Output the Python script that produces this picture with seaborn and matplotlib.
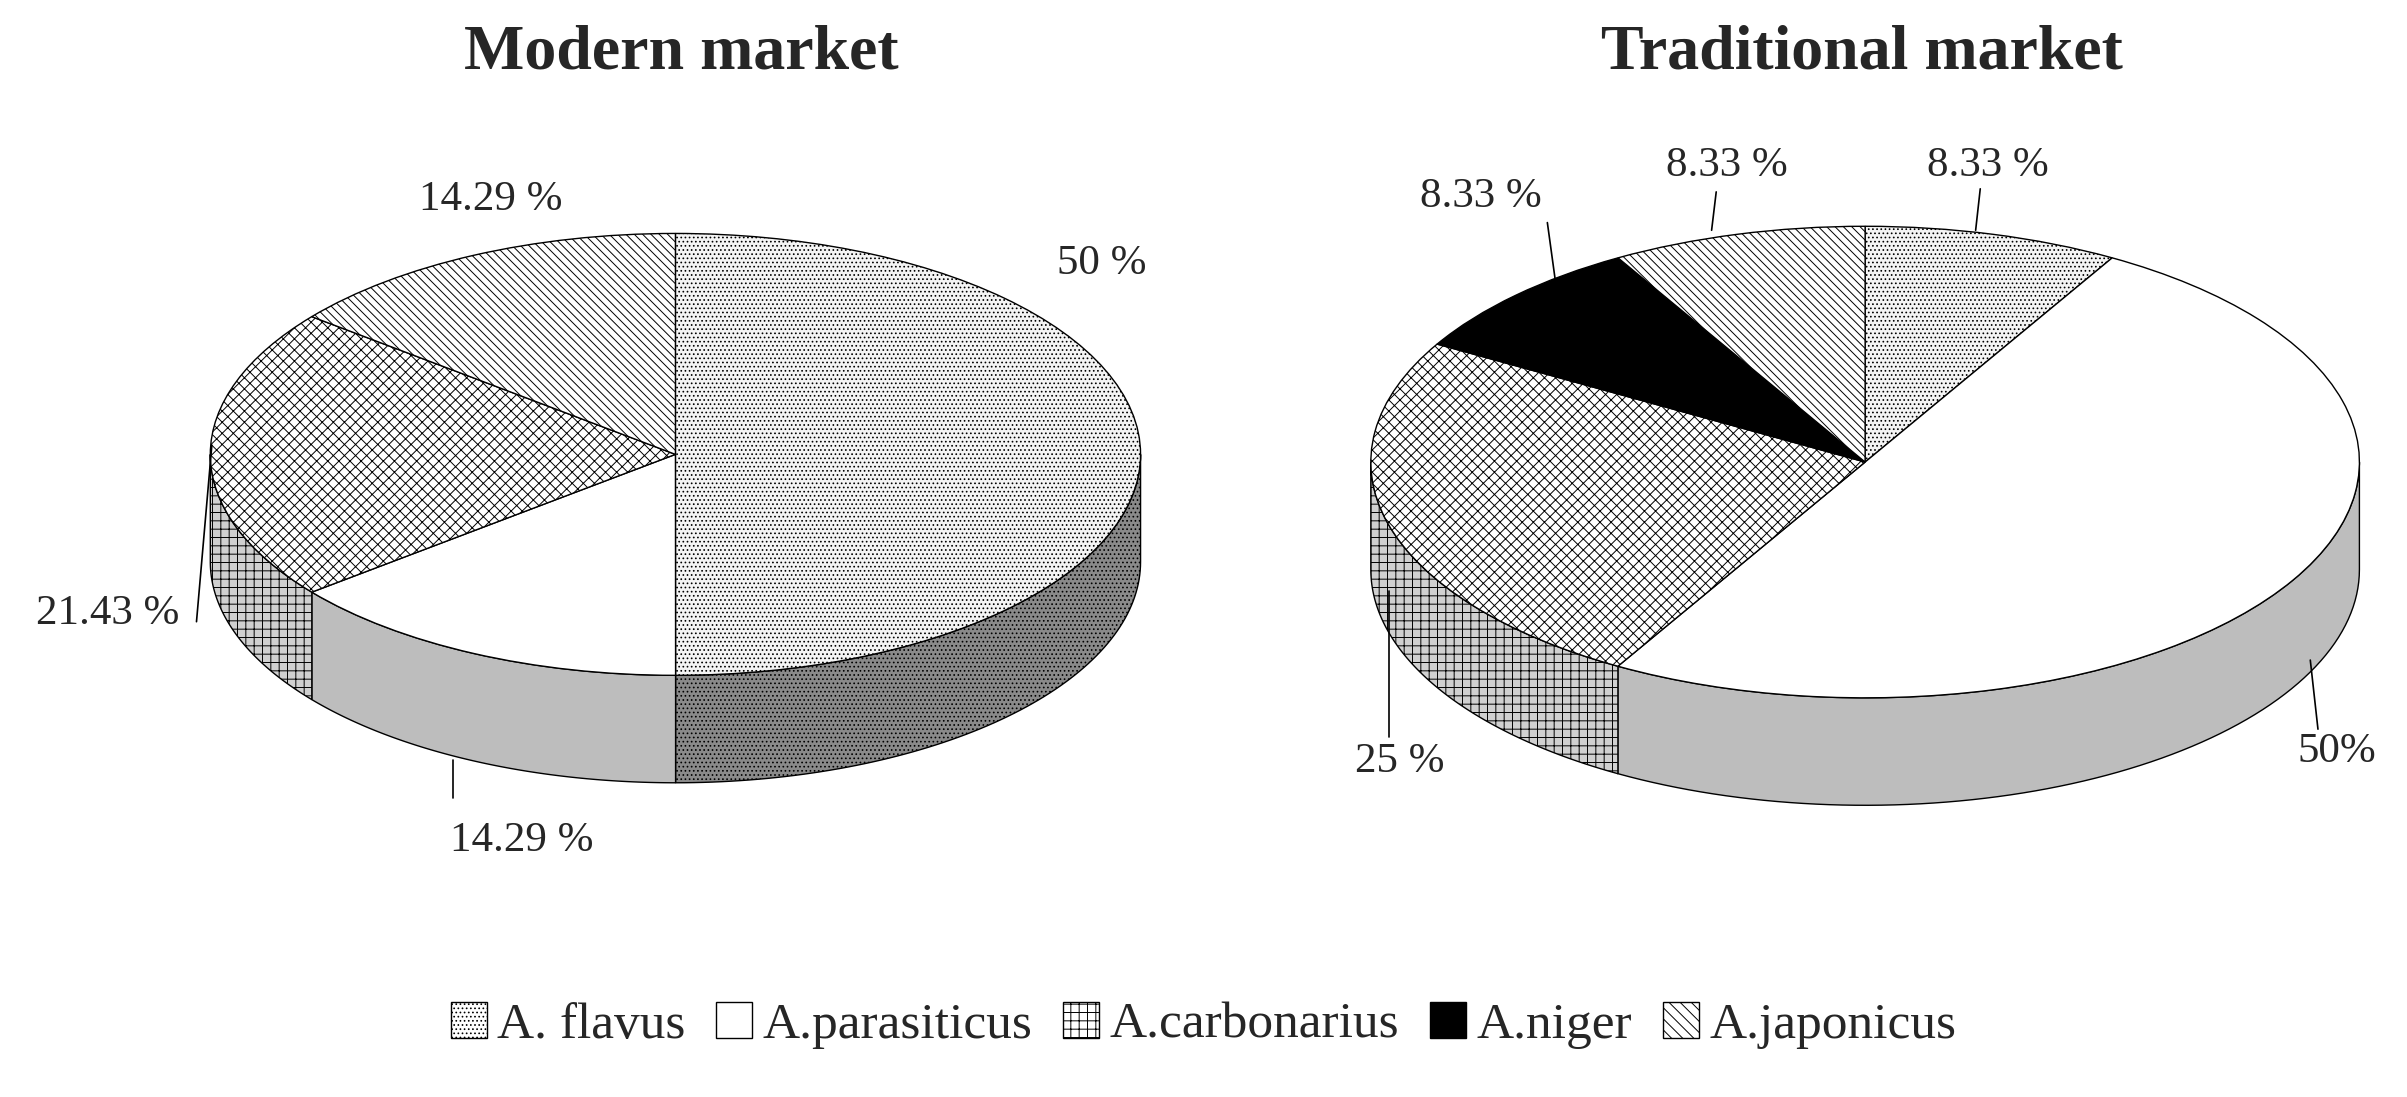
import numpy as np
import matplotlib
matplotlib.use("Agg")
import matplotlib.pyplot as plt
from matplotlib.patches import Polygon, Patch
from matplotlib.transforms import Affine2D
import seaborn as sns

species = ["A. flavus", "A.parasiticus", "A.carbonarius", "A.niger", "A.japonicus"]
modern_species = ["A. flavus", "A.parasiticus", "A.carbonarius", "A.japonicus"]
modern_values = [50, 14.29, 21.43, 14.29]
trad_species = ["A. flavus", "A.parasiticus", "A.carbonarius", "A.niger", "A.japonicus"]
trad_values = [8.33, 50, 25, 8.33, 8.33]

top_style = {
    "A. flavus": ("#f4f4f4", "...."),
    "A.parasiticus": ("white", None),
    "A.carbonarius": ("white", "xxx"),
    "A.niger": ("black", None),
    "A.japonicus": ("white", "\\\\\\\\"),
}
side_style = {
    "A. flavus": ("#8a8a8a", "...."),
    "A.parasiticus": ("#bdbdbd", None),
    "A.carbonarius": ("#d0d0d0", "++"),
    "A.niger": ("black", None),
    "A.japonicus": ("#bbbbbb", "\\\\\\\\"),
}

sns.set_style("white")
plt.rcParams["font.family"] = ["Liberation Serif", "DejaVu Serif"]
plt.rcParams["hatch.linewidth"] = 0.7

W, H = 2407, 1097
S = W / 1568.0  # reference scaling


def P(x, y):
    return x * S, H - y * S


fig = plt.figure(figsize=(W / 100, H / 100), dpi=100)
ax = fig.add_axes([0, 0, 1, 1])


def pie3d(names, values, cx, cy, R, k, depth):
    tr = Affine2D().translate(-cx, -cy).scale(1, k).translate(cx, cy) + ax.transData
    wedges, _ = ax.pie(values, startangle=90, counterclock=False, radius=R,
                       center=(cx, cy), wedgeprops=dict(edgecolor="black", linewidth=1))
    for w, name in zip(wedges, names):
        fc, h = top_style[name]
        w.set_transform(tr)
        w.set_facecolor(fc)
        w.set_hatch(h)
        w.set_zorder(3)
        a, b = min(w.theta1, w.theta2), max(w.theta1, w.theta2)
        sfc, sh = side_style[name]
        # front half only (sin < 0)
        for s in (-720, -360, 0, 360):
            lo, hi = max(a, 180 + s), min(b, 360 + s)
            if hi <= lo:
                continue
            th = np.radians(np.linspace(lo, hi, 80))
            xs = cx + R * np.cos(th)
            ys = cy + k * R * np.sin(th)
            pts = np.vstack([np.column_stack([xs, ys]),
                             np.column_stack([xs[::-1], ys[::-1] - depth])])
            ax.add_patch(Polygon(pts, closed=True, facecolor=sfc, hatch=sh,
                                 edgecolor="black", linewidth=1, zorder=2))


mx, my = P(440, 296)
pie3d(modern_species, modern_values, mx, my, 303 * S, 0.475, 70 * S)
tx, ty = P(1215, 301)
pie3d(trad_species, trad_values, tx, ty, 322 * S, 0.477, 70 * S)

ax.set_xlim(0, W)
ax.set_ylim(0, H)
ax.set_aspect("auto")
ax.axis("off")

tfs = 46
ax.text(*P(444, 35), "Modern market", ha="center", va="center", fontsize=tfs, fontweight="bold")
ax.text(*P(1213, 35), "Traditional market", ha="center", va="center", fontsize=tfs, fontweight="bold")

lfs = 31
labels = [
    ("50 %", 718, 172, None),
    ("14.29 %", 320, 130, None),
    ("21.43 %", 70, 400, ((128, 405), (138, 290))),
    ("14.29 %", 340, 548, ((295, 520), (295, 495))),
    ("8.33 %", 965, 128, ((1008, 145), (1015, 196))),
    ("8.33 %", 1125, 108, ((1118, 125), (1115, 150))),
    ("8.33 %", 1295, 108, ((1290, 123), (1287, 150))),
    ("25 %", 912, 496, ((905, 480), (905, 385))),
    ("50%", 1522, 490, ((1510, 475), (1505, 430))),
]
for txt, x, y, line in labels:
    ax.text(*P(x, y), txt, ha="center", va="center", fontsize=lfs, zorder=5)
    if line:
        (x1, y1), (x2, y2) = line
        a1, b1 = P(x1, y1)
        a2, b2 = P(x2, y2)
        ax.plot([a1, a2], [b1, b2], color="black", lw=1.2, zorder=5)

handles = [Patch(facecolor="white" if n != "A.niger" else "black",
                 hatch={"A. flavus": "....", "A.carbonarius": "++",
                        "A.japonicus": "\\\\\\"}.get(n), edgecolor="black")
           for n in species]
fig.legend(handles, species, loc="center", bbox_to_anchor=(0.5, 1 - 668 * S / H),
           ncol=5, frameon=False, fontsize=37, handlelength=0.7, handleheight=0.7,
           handletextpad=0.2, columnspacing=0.6)

fig.savefig("out.png", dpi=100)
